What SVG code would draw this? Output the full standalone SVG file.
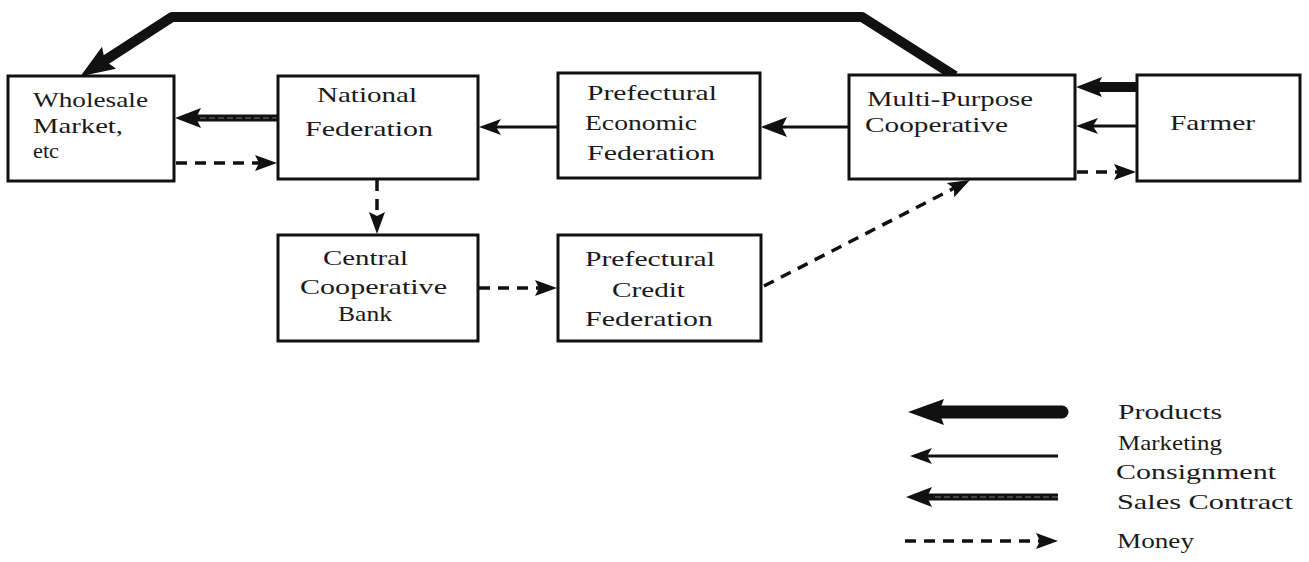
<svg xmlns="http://www.w3.org/2000/svg" width="1309" height="562" viewBox="0 0 1309 562">
  <style>
    .box { fill: #fff; stroke: #111; stroke-width: 3; }
    .lbl { font-family: "Liberation Serif", "Times New Roman", serif; font-size: 22px; fill: #1a1a1a; }
    .prod { fill: none; stroke: #111; stroke-width: 10; stroke-linejoin: round; }
    .sales { fill: none; stroke: #111; stroke-width: 7; }
    .sales-in { fill: none; stroke: #777; stroke-width: 1.2; stroke-dasharray: 6 3; }
    .mkt { fill: none; stroke: #111; stroke-width: 3; }
    .money { fill: none; stroke: #111; stroke-width: 3.5; stroke-dasharray: 11 8; }
  </style>
  <defs>
    <!-- arrowheads: the line ends inside the head, the tip sits ahead of it -->
    <marker id="hProd" markerUnits="userSpaceOnUse" markerWidth="40" markerHeight="30" viewBox="-36 -15 40 30" refX="-28" refY="0" orient="auto">
      <path d="M0,0 L-34,-13 L-29,0 L-34,13 Z" fill="#111"/>
    </marker>
    <marker id="hMed" markerUnits="userSpaceOnUse" markerWidth="30" markerHeight="24" viewBox="-28 -12 30 24" refX="-20" refY="0" orient="auto">
      <path d="M0,0 L-26,-10 L-21,0 L-26,10 Z" fill="#111"/>
    </marker>
    <marker id="hThin" markerUnits="userSpaceOnUse" markerWidth="26" markerHeight="20" viewBox="-24 -10 26 20" refX="-16" refY="0" orient="auto">
      <path d="M0,0 L-22,-8 L-17,0 L-22,8 Z" fill="#111"/>
    </marker>
    <marker id="hMoney" markerUnits="userSpaceOnUse" markerWidth="26" markerHeight="20" viewBox="-24 -10 26 20" refX="-16" refY="0" orient="auto">
      <path d="M0,0 L-22,-8 L-18,0 L-22,8 Z" fill="#111"/>
    </marker>
  </defs>

  <!-- connectors -->
  <g id="connectors">
    <!-- products: cooperative over the top to the wholesale market -->
    <path class="prod" d="M955,76 L862,17 L172,17 L104,61" marker-end="url(#hProd)"/>
    <!-- national federation to wholesale market (sales contract) -->
    <line class="sales" x1="278" y1="118" x2="195" y2="118" marker-end="url(#hMed)"/>
    <line class="sales-in" x1="278" y1="118" x2="198" y2="118"/>
    <!-- money: wholesale market to national federation -->
    <line class="money" x1="176" y1="163" x2="261" y2="163" marker-end="url(#hMoney)"/>
    <!-- prefectural economic to national federation -->
    <line class="mkt" x1="558" y1="127" x2="495" y2="127" marker-end="url(#hThin)"/>
    <!-- cooperative to prefectural economic -->
    <line class="mkt" x1="849" y1="127" x2="781" y2="127" marker-end="url(#hMed)"/>
    <!-- farmer to cooperative -->
    <line class="prod" x1="1137" y1="87" x2="1096" y2="87" stroke-width="8" marker-end="url(#hMed)"/>
    <line class="mkt" x1="1137" y1="126" x2="1092" y2="126" marker-end="url(#hThin)"/>
    <line class="money" x1="1077" y1="172" x2="1120" y2="172" marker-end="url(#hMoney)"/>
    <!-- money: national federation to central bank -->
    <line class="money" x1="377" y1="180" x2="377" y2="218" marker-end="url(#hMoney)"/>
    <!-- money: central bank to prefectural credit -->
    <line class="money" x1="479" y1="288" x2="541" y2="288" marker-end="url(#hMoney)"/>
    <!-- money: prefectural credit to cooperative -->
    <line class="money" x1="764" y1="286" x2="955.8" y2="187.3" marker-end="url(#hMoney)"/>
  </g>

  <!-- nodes -->
  <g id="wholesale">
    <rect class="box" x="8" y="76" width="166" height="105"/>
    <text class="lbl" x="33" y="107" textLength="115" lengthAdjust="spacingAndGlyphs">Wholesale</text>
    <text class="lbl" x="33" y="133" textLength="90" lengthAdjust="spacingAndGlyphs">Market,</text>
    <text class="lbl" x="33" y="158" textLength="26" lengthAdjust="spacingAndGlyphs">etc</text>
  </g>
  <g id="national">
    <rect class="box" x="278" y="76" width="200" height="103"/>
    <text class="lbl" x="317" y="102" textLength="100" lengthAdjust="spacingAndGlyphs">National</text>
    <text class="lbl" x="305" y="136" textLength="128" lengthAdjust="spacingAndGlyphs">Federation</text>
  </g>
  <g id="pref-economic">
    <rect class="box" x="558" y="73" width="202" height="105"/>
    <text class="lbl" x="587" y="100" textLength="130" lengthAdjust="spacingAndGlyphs">Prefectural</text>
    <text class="lbl" x="585" y="130" textLength="112" lengthAdjust="spacingAndGlyphs">Economic</text>
    <text class="lbl" x="587" y="160" textLength="128" lengthAdjust="spacingAndGlyphs">Federation</text>
  </g>
  <g id="cooperative">
    <rect class="box" x="849" y="75" width="226" height="104"/>
    <text class="lbl" x="867" y="106" textLength="166" lengthAdjust="spacingAndGlyphs">Multi-Purpose</text>
    <text class="lbl" x="865" y="132" textLength="143" lengthAdjust="spacingAndGlyphs">Cooperative</text>
  </g>
  <g id="farmer">
    <rect class="box" x="1137" y="75" width="163" height="106"/>
    <text class="lbl" x="1170" y="130" textLength="85" lengthAdjust="spacingAndGlyphs">Farmer</text>
  </g>
  <g id="central-bank">
    <rect class="box" x="278" y="235" width="200" height="106"/>
    <text class="lbl" x="323" y="265" textLength="85" lengthAdjust="spacingAndGlyphs">Central</text>
    <text class="lbl" x="300" y="294" textLength="147" lengthAdjust="spacingAndGlyphs">Cooperative</text>
    <text class="lbl" x="338" y="321" textLength="54" lengthAdjust="spacingAndGlyphs">Bank</text>
  </g>
  <g id="pref-credit">
    <rect class="box" x="558" y="235" width="203" height="106"/>
    <text class="lbl" x="585" y="266" textLength="130" lengthAdjust="spacingAndGlyphs">Prefectural</text>
    <text class="lbl" x="612" y="297" textLength="73" lengthAdjust="spacingAndGlyphs">Credit</text>
    <text class="lbl" x="585" y="326" textLength="128" lengthAdjust="spacingAndGlyphs">Federation</text>
  </g>

  <!-- legend -->
  <g id="legend">
    <line x1="1062" y1="412" x2="940" y2="412" stroke="#111" stroke-width="13" stroke-linecap="round"/>
    <path d="M908,412 L944,399 L939,412 L944,425 Z" fill="#111"/>
    <line class="mkt" x1="1058" y1="456" x2="926" y2="456" marker-end="url(#hThin)"/>
    <line class="sales" x1="1058" y1="497" x2="926" y2="497" marker-end="url(#hMed)" stroke-width="8"/>
    <line class="sales-in" x1="1058" y1="497" x2="932" y2="497"/>
    <line class="money" x1="905" y1="541" x2="1042" y2="541" marker-end="url(#hMoney)"/>
    <text class="lbl" x="1118" y="419" textLength="104" lengthAdjust="spacingAndGlyphs">Products</text>
    <text class="lbl" x="1118" y="450" textLength="104" lengthAdjust="spacingAndGlyphs">Marketing</text>
    <text class="lbl" x="1116" y="479" textLength="160" lengthAdjust="spacingAndGlyphs">Consignment</text>
    <text class="lbl" x="1117" y="509" textLength="176" lengthAdjust="spacingAndGlyphs">Sales Contract</text>
    <text class="lbl" x="1117" y="548" textLength="77" lengthAdjust="spacingAndGlyphs">Money</text>
  </g>
</svg>
